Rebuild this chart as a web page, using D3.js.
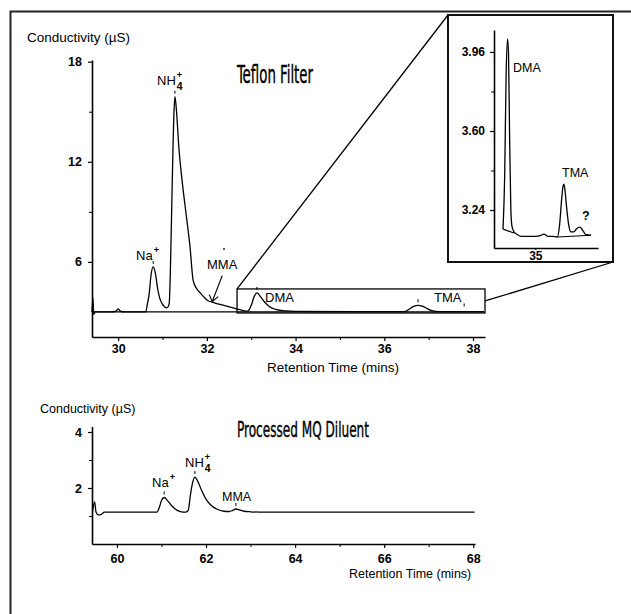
<!DOCTYPE html>
<html>
<head>
<meta charset="utf-8">
<script src="https://cdn.jsdelivr.net/npm/d3@7"></script>
<style>
body { margin: 0; background: #fff; }
svg { display: block; }
</style>
</head>
<body>
<svg id="svg"></svg>
<script>
// ---------- data ----------
// Teflon filter chromatogram (minutes, µS)
var teflonT = [29.41, 29.43, 29.45, 29.48, 29.85, 29.95, 30.0, 30.05, 30.12, 30.62, 30.66, 30.70, 30.74, 30.79, 30.84, 30.89, 30.94, 30.99, 31.05, 31.10,
               31.15, 31.19, 31.22, 31.26, 31.28, 31.31, 31.37, 31.44, 31.53, 31.62, 31.69, 31.77, 31.85, 32.0, 32.17, 32.34, 32.59, 32.8, 32.92,
               33.0, 33.07, 33.13, 33.2, 33.3, 33.42, 33.55, 33.75, 34.0, 36.45, 36.55, 36.65, 36.76, 36.87, 36.97, 37.07, 37.25, 38.25];
var teflonV = [3.0, 3.85, 2.85, 3.0, 3.0, 3.05, 3.18, 3.05, 3.0, 3.0, 3.5, 4.1, 5.2, 5.7, 5.3, 4.4, 3.8, 3.5, 3.3, 3.25,
               3.5, 7.0, 10.9, 15.1, 15.9, 15.2, 12.8, 10.9, 8.9, 6.9, 4.9, 4.4, 4.14, 3.72, 3.55, 3.42, 3.24, 3.1, 3.05,
               3.4, 3.95, 4.14, 3.95, 3.6, 3.3, 3.15, 3.06, 3.03, 3.02, 3.15, 3.32, 3.4, 3.33, 3.2, 3.08, 3.02, 3.02];
var teflonBaseT = [29.41, 38.25];
var teflonBaseV = [3.0, 3.0];
var teflonPeakT = [30.79, 31.28, 33.13, 36.76, 37.8];
var teflonPeakV = [5.7, 15.9, 4.14, 3.4, 3.15];
var teflonYTicks = [6, 12, 18];
var teflonYMinor = [9, 15];
var teflonXTicks = [30, 32, 34, 36, 38];
var teflonXMinor = [31, 33, 35, 37];
// zoom window shown in the inset (min, µS)
var windowT = [32.68, 38.27];
var windowV = [2.94, 4.38];

// inset: DMA / TMA region
var insetT = [32.73, 32.85, 32.95, 33.05, 33.12, 33.2, 33.28, 33.35, 33.5, 33.7, 34.0, 35.0, 35.4, 35.6, 35.9, 36.2, 36.55,
              36.7, 36.85, 36.95, 37.01, 37.1, 37.2, 37.35, 37.5, 37.7, 37.9, 38.14, 38.35, 38.55, 38.9];
var insetV = [3.153, 3.40, 3.85, 4.02, 3.95, 3.55, 3.25, 3.17, 3.14, 3.13, 3.12, 3.12, 3.125, 3.13, 3.12, 3.12, 3.117,
              3.17, 3.29, 3.35, 3.358, 3.32, 3.25, 3.17, 3.14, 3.14, 3.155, 3.162, 3.145, 3.128, 3.125];
var insetChordT = [[32.73, 33.5], [36.55, 38.9]];
var insetChordV = [[3.153, 3.135], [3.117, 3.125]];
var insetYTicks = [3.24, 3.60, 3.96];
var insetYMinor = [3.42, 3.78];
var insetXTicks = [35];

// processed MQ diluent chromatogram
var diluentT = [59.45, 59.5, 59.53, 59.58, 59.65, 59.72, 60.9, 60.95, 61.0, 61.06, 61.13, 61.2, 61.3, 61.42, 61.55,
                61.6, 61.65, 61.7, 61.75, 61.82, 61.9, 62.0, 62.1, 62.25, 62.4, 62.52, 62.6, 62.67, 62.75, 62.85, 63.0, 63.2, 68.03];
var diluentV = [1.14, 1.5, 1.14, 1.04, 1.06, 1.14, 1.14, 1.3, 1.55, 1.66, 1.56, 1.42, 1.26, 1.16, 1.14,
                1.2, 1.75, 2.2, 2.39, 2.22, 1.92, 1.6, 1.4, 1.24, 1.17, 1.16, 1.2, 1.25, 1.22, 1.17, 1.15, 1.14, 1.14];
var diluentPeakT = [61.06, 61.75, 62.67];
var diluentPeakV = [1.66, 2.39, 1.25];
var diluentYTicks = [2, 4];
var diluentYMinor = [1, 3];
var diluentXTicks = [60, 62, 64, 66, 68];
var diluentXMinor = [61, 63, 65, 67];

// ---------- drawing ----------
var W = 631, H = 614;
var FONT = "'Liberation Sans', Arial, Helvetica, sans-serif";
var NARROW = "'Liberation Sans Narrow', 'DejaVu Sans Condensed', 'Liberation Sans', sans-serif";

var svg = d3.select("#svg").attr("width", W).attr("height", H);
svg.append("rect").attr("width", W).attr("height", H).attr("fill", "#fff");

// page frame (left + top)
svg.append("path").attr("d", "M10.5," + H + "V11.5H" + W)
    .attr("fill", "none").attr("stroke", "#222").attr("stroke-width", 2);

function zip(a, b) { return a.map(function(d, i) { return [d, b[i]]; }); }

function trace(g, x, y, ts, vs, w) {
    var line = d3.line().x(function(d) { return x(d[0]); }).y(function(d) { return y(d[1]); })
        .curve(d3.curveMonotoneX);
    g.append("path").attr("d", line(zip(ts, vs)))
        .attr("fill", "none").attr("stroke", "#000").attr("stroke-width", w || 1.3)
        .attr("stroke-linejoin", "round");
}

function peakMarks(g, x, y, ts, vs) {
    g.selectAll(null).data(zip(ts, vs)).enter().append("line")
        .attr("x1", function(d) { return x(d[0]); }).attr("x2", function(d) { return x(d[0]); })
        .attr("y1", function(d) { return y(d[1]) - 6; }).attr("y2", function(d) { return y(d[1]) - 3; })
        .attr("stroke", "#000").attr("stroke-width", 1);
}

function styleAxis(ax, size) {
    ax.attr("font-family", FONT).attr("font-size", size || 12).attr("font-weight", "bold");
    ax.select(".domain").attr("stroke", "#000").attr("stroke-width", 1.6);
    ax.selectAll(".tick line").attr("stroke", "#000").attr("stroke-width", 1.2);
    ax.selectAll(".tick text").attr("fill", "#000");
}

function axes(g, x, y, o) {
    var ya = g.append("g").attr("transform", "translate(" + x.range()[0] + ",0)")
        .call(d3.axisLeft(y).tickValues(o.yTicks).tickSize(4).tickSizeOuter(0).tickPadding(o.yPad).tickFormat(o.yFmt));
    styleAxis(ya, o.font);
    var ym = g.append("g").attr("transform", "translate(" + x.range()[0] + ",0)")
        .call(d3.axisLeft(y).tickValues(o.yMinor).tickSize(3).tickFormat(""));
    ym.select(".domain").remove();
    ym.selectAll(".tick line").attr("stroke", "#000");
    var xa = g.append("g").attr("transform", "translate(0," + y.range()[0] + ")")
        .call(d3.axisBottom(x).tickValues(o.xTicks).tickSize(o.xTick).tickSizeOuter(0).tickPadding(o.xPad).tickFormat(d3.format("d")));
    styleAxis(xa, o.font);
    if (o.xMinor) {
        var xm = g.append("g").attr("transform", "translate(0," + y.range()[0] + ")")
            .call(d3.axisBottom(x).tickValues(o.xMinor).tickSize(3).tickFormat(""));
        xm.select(".domain").remove();
        xm.selectAll(".tick line").attr("stroke", "#000");
    }
}

function txt(g, x, y, s, size, opts) {
    opts = opts || {};
    return g.append("text").attr("x", x).attr("y", y).text(s)
        .attr("font-family", opts.family || FONT).attr("font-size", size)
        .attr("font-weight", opts.weight || "normal").attr("fill", "#000");
}

// ion label with stacked super/subscripts, e.g. NH4+
function ion(g, x, y, base, sub, sup, size) {
    var t = txt(g, x, y, base, size);
    var len = t.node().getComputedTextLength();
    if (sup) txt(g, x + len + 1, y - size * 0.55, sup, size * 0.7, { weight: "bold" });
    if (sub) txt(g, x + len + 1, y + size * 0.35, sub, size * 0.8, { weight: "bold" });
}

// ===== top chart: Teflon filter =====
var xTop = d3.scaleLinear().domain([29.41, 38.27]).range([92, 485]);
var yTop = d3.scaleLinear().domain([1.5, 18.1]).range([337, 60]);
var gTop = svg.append("g");

axes(gTop, xTop, yTop, {
    yTicks: teflonYTicks, yMinor: teflonYMinor, xTicks: teflonXTicks, xMinor: teflonXMinor,
    yFmt: d3.format("d"), yPad: 6, xPad: 3, xTick: 4, font: 12.5
});
trace(gTop, xTop, yTop, teflonBaseT, teflonBaseV, 1.2);
trace(gTop, xTop, yTop, teflonT, teflonV, 1.3);
peakMarks(gTop, xTop, yTop, teflonPeakT, teflonPeakV);

txt(gTop, 27, 42, "Conductivity (\u00b5S)", 13.5);
txt(gTop, 267, 372, "Retention Time (mins)", 13.5);
txt(gTop, 237, 83, "Teflon Filter", 24, { family: NARROW })
    .attr("textLength", 76).attr("lengthAdjust", "spacingAndGlyphs")
    .attr("stroke", "#000").attr("stroke-width", 0.4);
ion(gTop, 157, 85, "NH", "4", "+", 13);
ion(gTop, 136, 260, "Na", null, "+", 13);
txt(gTop, 207, 269, "MMA", 13);
gTop.append("line").attr("x1", 224).attr("x2", 224).attr("y1", 248).attr("y2", 250)
    .attr("stroke", "#000").attr("stroke-width", 1.2);

// arrow to MMA shoulder
var mmaX = xTop(32.12), mmaY = yTop(3.62);
gTop.append("path")
    .attr("d", "M" + (mmaX + 10) + "," + (mmaY - 26) + "L" + mmaX + "," + mmaY +
        "M" + (mmaX - 3) + "," + (mmaY - 7) + "L" + mmaX + "," + mmaY + "L" + (mmaX + 6) + "," + (mmaY - 5))
    .attr("fill", "none").attr("stroke", "#000").attr("stroke-width", 1.2);

// zoom window box
var bx0 = xTop(windowT[0]), bx1 = xTop(windowT[1]), by0 = yTop(windowV[1]), by1 = yTop(windowV[0]);
gTop.append("rect").attr("x", bx0).attr("y", by0).attr("width", bx1 - bx0).attr("height", by1 - by0)
    .attr("fill", "none").attr("stroke", "#000").attr("stroke-width", 1.3);
txt(gTop, 265, 302, "DMA", 13);
txt(gTop, 434, 302, "TMA", 13);

// ===== inset =====
var inset = { x0: 448, y0: 15, x1: 613, y1: 262 };
svg.append("rect").attr("x", inset.x0).attr("y", inset.y0)
    .attr("width", inset.x1 - inset.x0).attr("height", inset.y1 - inset.y0)
    .attr("fill", "#fff").attr("stroke", "#111").attr("stroke-width", 2);
svg.append("line").attr("x1", bx0).attr("y1", by0).attr("x2", inset.x0).attr("y2", inset.y0)
    .attr("stroke", "#000").attr("stroke-width", 1.3);
svg.append("line").attr("x1", bx1).attr("y1", (by0 + by1) / 2).attr("x2", inset.x1).attr("y2", inset.y1)
    .attr("stroke", "#000").attr("stroke-width", 1.3);

var xIns = d3.scaleLinear().domain([32.1, 39.4]).range([494, 598]);
var yIns = d3.scaleLinear().domain([3.067, 4.06]).range([248, 30]);
var gIns = svg.append("g");
axes(gIns, xIns, yIns, {
    yTicks: insetYTicks, yMinor: insetYMinor, xTicks: insetXTicks, xMinor: null,
    yFmt: d3.format(".2f"), yPad: 5, xPad: 1, xTick: 2, font: 12
});
insetChordT.forEach(function(c, i) { trace(gIns, xIns, yIns, c, insetChordV[i], 1.1); });
trace(gIns, xIns, yIns, insetT, insetV, 1.3);
txt(gIns, 513, 72, "DMA", 12.5);
txt(gIns, 562, 177, "TMA", 12.5);
txt(gIns, 582, 220, "?", 12.5, { weight: "bold" });

// ===== bottom chart: processed MQ diluent =====
var xBot = d3.scaleLinear().domain([59.44, 68.04]).range([92, 475]);
var yBot = d3.scaleLinear().domain([0, 4.2]).range([544, 426.4]);
var gBot = svg.append("g");
axes(gBot, xBot, yBot, {
    yTicks: diluentYTicks, yMinor: diluentYMinor, xTicks: diluentXTicks, xMinor: diluentXMinor,
    yFmt: d3.format("d"), yPad: 6, xPad: 6, xTick: 4, font: 12.5
});
trace(gBot, xBot, yBot, diluentT, diluentV, 1.3);
peakMarks(gBot, xBot, yBot, diluentPeakT, diluentPeakV);

txt(gBot, 40, 413, "Conductivity (\u00b5S)", 12.5);
txt(gBot, 349, 578, "Retention Time (mins)", 12.5);
txt(gBot, 237, 437, "Processed MQ Diluent", 21, { family: NARROW })
    .attr("textLength", 132).attr("lengthAdjust", "spacingAndGlyphs")
    .attr("stroke", "#000").attr("stroke-width", 0.4);
ion(gBot, 152, 487, "Na", null, "+", 13);
ion(gBot, 185, 467, "NH", "4", "+", 13);
txt(gBot, 222, 501, "MMA", 12.5);
</script>
</body>
</html>
